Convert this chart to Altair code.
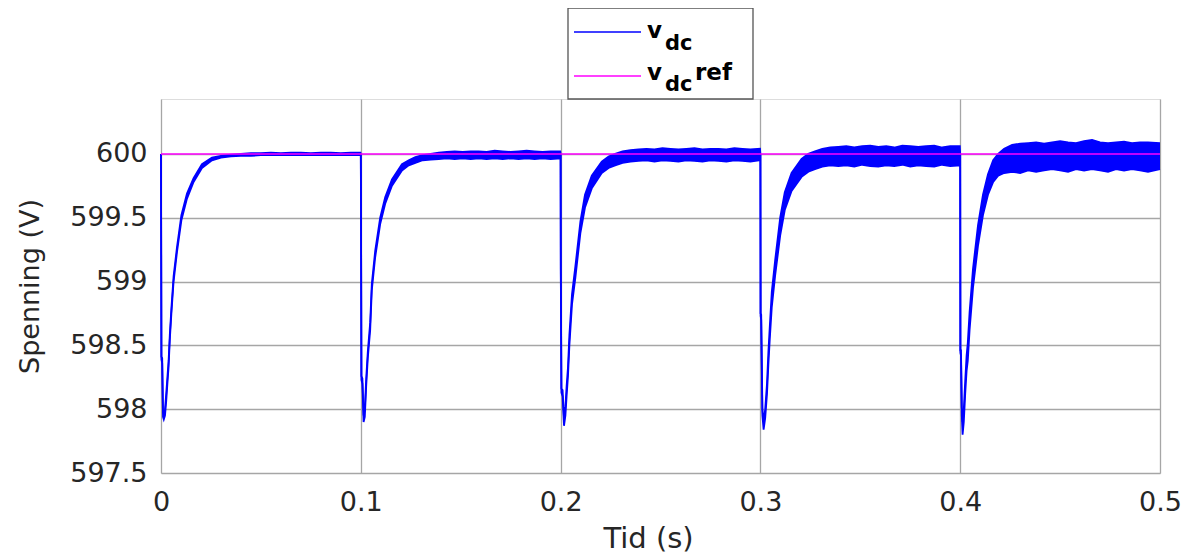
import altair as alt
import pandas as pd

# ---- data (time in s, voltage in V) ----
seg_offsets = [0.0, 0.1, 0.2, 0.3, 0.4]

s1_t = [0.0, 0.0002, 0.0006, 0.0010, 0.0014, 0.0020, 0.0026, 0.0032, 0.0038, 0.0044,
        0.0052, 0.0063, 0.0080, 0.0102, 0.0130, 0.0163, 0.0205, 0.0255, 0.030, 0.035,
        0.040, 0.045, 0.050, 0.055, 0.060, 0.065, 0.070, 0.075, 0.080, 0.085,
        0.090, 0.095, 0.0998]
s1_lo = [600.0, 598.39, 598.36, 597.94, 597.92, 597.95, 598.06, 598.2, 598.33, 598.54,
         598.75, 599.0, 599.23, 599.48, 599.65, 599.78, 599.89, 599.95, 599.97, 599.98,
         599.985, 599.985, 599.99, 599.99, 599.99, 599.99, 599.99, 599.99, 599.99, 599.99,
         599.99, 599.99, 599.99]
s1_hi = [600.0, 598.41, 598.40, 597.98, 597.96, 598.0, 598.12, 598.25, 598.38, 598.58,
         598.79, 599.04, 599.27, 599.52, 599.69, 599.81, 599.92, 599.97, 599.985, 599.995,
         600.0, 600.005, 600.005, 600.01, 600.005, 600.01, 600.01, 600.005, 600.01, 600.01,
         600.005, 600.01, 600.01]

s2_t = [0.0, 0.0001, 0.0003, 0.0008, 0.0014, 0.0020, 0.0027, 0.0035, 0.0047, 0.0055,
        0.0072, 0.0097, 0.0122, 0.0156, 0.0206, 0.0240, 0.0273, 0.031, 0.035, 0.039,
        0.043, 0.047, 0.051, 0.055, 0.059, 0.063, 0.067, 0.071, 0.075, 0.079,
        0.083, 0.087, 0.091, 0.095, 0.0998]
s2_lo = [600.0, 599.6, 598.23, 598.2, 597.9, 597.94, 598.18, 598.4, 598.62, 598.93,
         599.19, 599.45, 599.61, 599.75, 599.87, 599.91, 599.93, 599.95, 599.955, 599.96,
         599.965, 599.96, 599.965, 599.96, 599.965, 599.96, 599.965, 599.96, 599.965, 599.96,
         599.965, 599.96, 599.965, 599.96, 599.965]
s2_hi = [600.0, 599.62, 598.26, 598.24, 597.95, 598.0, 598.24, 598.45, 598.68, 598.98,
         599.24, 599.5, 599.66, 599.8, 599.92, 599.95, 599.975, 599.99, 600.0, 600.01,
         600.015, 600.02, 600.015, 600.02, 600.02, 600.015, 600.025, 600.02, 600.015, 600.02,
         600.025, 600.02, 600.015, 600.02, 600.02]

s3_t = [0.0, 0.0001, 0.0004, 0.0010, 0.0017, 0.0024, 0.0030, 0.0037, 0.0044, 0.0057,
        0.0074, 0.0099, 0.0122, 0.0156, 0.0206, 0.0240, 0.0273, 0.031, 0.035, 0.039,
        0.043, 0.047, 0.051, 0.055, 0.059, 0.063, 0.067, 0.071, 0.075, 0.079,
        0.083, 0.087, 0.091, 0.095, 0.0998]
s3_lo = [600.0, 599.08, 598.13, 598.1, 597.87, 597.95, 598.1, 598.26, 598.5, 598.82,
         599.03, 599.38, 599.58, 599.73, 599.85, 599.89, 599.91, 599.93, 599.94, 599.945,
         599.95, 599.94, 599.95, 599.945, 599.94, 599.95, 599.945, 599.94, 599.95, 599.945,
         599.94, 599.95, 599.945, 599.94, 599.95]
s3_hi = [600.0, 599.1, 598.16, 598.15, 597.93, 598.02, 598.18, 598.33, 598.58, 598.9,
         599.12, 599.47, 599.68, 599.83, 599.94, 599.98, 600.0, 600.02, 600.03, 600.035,
         600.04, 600.035, 600.045, 600.04, 600.035, 600.04, 600.045, 600.035, 600.04, 600.04,
         600.035, 600.045, 600.04, 600.035, 600.04]

s4_t = [0.0, 0.0001, 0.0004, 0.0010, 0.0016, 0.0024, 0.0033, 0.0040, 0.0047, 0.0057,
        0.0074, 0.0099, 0.0122, 0.0156, 0.0206, 0.0240, 0.0273, 0.031, 0.035, 0.039,
        0.043, 0.047, 0.051, 0.055, 0.059, 0.063, 0.067, 0.071, 0.075, 0.079,
        0.083, 0.087, 0.091, 0.095, 0.0998]
s4_lo = [600.0, 598.73, 598.7, 597.95, 597.84, 597.93, 598.12, 598.35, 598.55, 598.8,
         599.05, 599.36, 599.56, 599.71, 599.82, 599.86, 599.88, 599.9, 599.91, 599.905,
         599.91, 599.9, 599.915, 599.905, 599.9, 599.91, 599.905, 599.915, 599.9, 599.91,
         599.905, 599.9, 599.915, 599.905, 599.91]
s4_hi = [600.0, 598.75, 598.74, 598.0, 597.9, 598.0, 598.2, 598.45, 598.65, 598.92,
         599.17, 599.5, 599.7, 599.85, 599.96, 600.0, 600.02, 600.04, 600.05, 600.055,
         600.06, 600.05, 600.06, 600.065, 600.055, 600.06, 600.05, 600.065, 600.06, 600.055,
         600.06, 600.065, 600.05, 600.06, 600.06]

s5_t = [0.0, 0.0001, 0.0004, 0.0008, 0.0012, 0.0018, 0.0025, 0.0032, 0.0038, 0.0047,
        0.0064, 0.0089, 0.0114, 0.0139, 0.0165, 0.0190, 0.022, 0.026, 0.030, 0.034,
        0.038, 0.042, 0.046, 0.050, 0.054, 0.058, 0.062, 0.066, 0.070, 0.074,
        0.078, 0.082, 0.086, 0.090, 0.094, 0.1]
s5_lo = [600.0, 598.44, 598.42, 597.95, 597.8, 597.9, 598.12, 598.3, 598.38, 598.62,
         598.95, 599.28, 599.52, 599.68, 599.78, 599.83, 599.85, 599.86, 599.85, 599.87,
         599.86, 599.87, 599.88, 599.87, 599.86, 599.88, 599.87, 599.88, 599.87, 599.86,
         599.88, 599.87, 599.88, 599.87, 599.86, 599.88]
s5_hi = [600.0, 598.46, 598.46, 598.02, 597.9, 598.0, 598.22, 598.42, 598.52, 598.76,
         599.1, 599.44, 599.68, 599.84, 599.95, 600.0, 600.04, 600.07, 600.08, 600.085,
         600.09, 600.08, 600.09, 600.1, 600.09, 600.085, 600.1, 600.11, 600.09, 600.085,
         600.09, 600.095, 600.085, 600.09, 600.09, 600.085]

ref_t = [0.0, 0.5]
ref_v = [600.0, 600.0]

y_ticks = [597.5, 598.0, 598.5, 599.0, 599.5, 600.0]
x_ticks = [0.0, 0.1, 0.2, 0.3, 0.4, 0.5]

# ---- build table ----
rows = []
segs = [(s1_t, s1_lo, s1_hi), (s2_t, s2_lo, s2_hi), (s3_t, s3_lo, s3_hi),
        (s4_t, s4_lo, s4_hi), (s5_t, s5_lo, s5_hi)]
for off, (ts, los, his) in zip(seg_offsets, segs):
    assert len(ts) == len(los) == len(his), (off, len(ts), len(los), len(his))
    for t, lo, hi in zip(ts, los, his):
        rows.append({"t": round(off + t, 6), "lo": lo, "hi": hi})
df = pd.DataFrame(rows)
ref_df = pd.DataFrame({"t": ref_t, "v": ref_v})
one = pd.DataFrame({"k": [0]})

W, H = 999, 374
BLUE = "#0000FF"
MAG = "#FF00FF"
FONT = "DejaVu Sans"
TXT = "#262626"

xscale = alt.Scale(domain=[0, 0.5], nice=False)
yscale = alt.Scale(domain=[597.5, 600.43], nice=False, zero=False)

xaxis = alt.Axis(values=x_ticks, format="~g", title="Tid (s)", grid=True,
                 gridColor="#a6a6a6", gridWidth=1.3, ticks=False, tickSize=0,
                 domain=False, labelFont=FONT, labelFontSize=27, labelColor=TXT,
                 labelPadding=16, labelFlush=False,
                 titleFont=FONT, titleFontSize=29, titleFontWeight="normal",
                 titleColor=TXT, titleX=487, titleY=74, titleAlign="center",
                 titleBaseline="alphabetic")
yaxis = alt.Axis(values=y_ticks, format="~g", title="Spenning (V)", grid=True,
                 gridColor="#a6a6a6", gridWidth=1.3, ticks=False, tickSize=0,
                 domain=False, labelFont=FONT, labelFontSize=27, labelColor=TXT,
                 labelPadding=14, labelFlush=False,
                 titleFont=FONT, titleFontSize=27, titleFontWeight="normal",
                 titleColor=TXT, titleX=-131, titleY=H / 2, titleAlign="center",
                 titleBaseline="middle", titleAngle=270)

base = alt.Chart(df)
band = base.mark_area(color=BLUE, opacity=1).encode(
    x=alt.X("t:Q", scale=xscale, axis=xaxis),
    y=alt.Y("lo:Q", scale=yscale, axis=yaxis),
    y2="hi:Q",
)
line_lo = base.mark_line(color=BLUE, strokeWidth=1.8).encode(
    x=alt.X("t:Q", scale=xscale), y=alt.Y("lo:Q", scale=yscale))
line_hi = base.mark_line(color=BLUE, strokeWidth=1.8).encode(
    x=alt.X("t:Q", scale=xscale), y=alt.Y("hi:Q", scale=yscale))
ref = alt.Chart(ref_df).mark_line(color=MAG, strokeWidth=1.5).encode(
    x=alt.X("t:Q", scale=xscale), y=alt.Y("v:Q", scale=yscale))

# ---- legend box (pixel positions relative to plot area) ----
leg_box = alt.Chart(one).mark_rect(fill="white", stroke="#555555", strokeWidth=1.3).encode(
    x=alt.value(407), x2=alt.value(592), y=alt.value(-91), y2=alt.value(0))
leg_l1 = alt.Chart(one).mark_rule(color=BLUE, strokeWidth=1.5).encode(
    x=alt.value(413), x2=alt.value(480), y=alt.value(-67))
leg_l2 = alt.Chart(one).mark_rule(color=MAG, strokeWidth=1.5).encode(
    x=alt.value(413), x2=alt.value(480), y=alt.value(-23))

def txt(s, x, y, size):
    return alt.Chart(one).mark_text(
        text=s, align="left", baseline="alphabetic", font=FONT,
        fontSize=size, fontWeight="bold", color="black").encode(
        x=alt.value(x), y=alt.value(y))

leg_texts = [
    txt("v", 486, -61, 23),
    txt("dc", 504, -49, 21),
    txt("v", 486, -19, 23),
    txt("dc", 504, -8, 21),
    txt("ref", 534, -19, 23),
]

chart = alt.layer(band, line_lo, line_hi, ref, leg_box, leg_l1, leg_l2, *leg_texts).properties(
    width=W, height=H,
    autosize=alt.AutoSizeParams(type="none"),
    padding={"left": 153, "top": 91, "right": 26, "bottom": 80},
).configure_view(stroke="#404040", strokeWidth=1.5).configure(background="white")

chart.save("out.html", embed_options={"renderer": "svg", "actions": False})
